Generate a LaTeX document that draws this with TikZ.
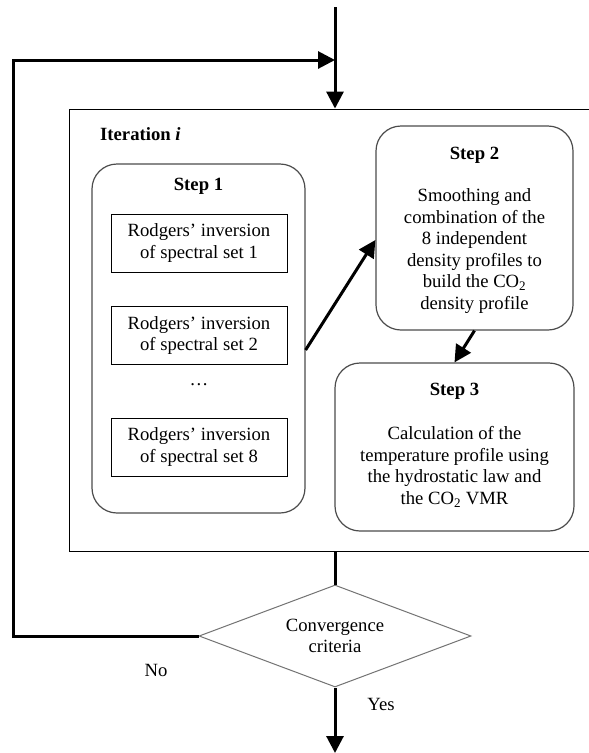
\documentclass[tikz,border=0pt]{standalone}
\usepackage{fontspec}
\setmainfont{Liberation Serif}
\usetikzlibrary{arrows.meta,shapes.geometric}
\begin{document}
\begin{tikzpicture}[x=1pt,y=-1pt,
  txt/.style={font=\fontsize{18.67}{21.5}\selectfont, align=center, inner sep=0pt},
  bold/.style={font=\fontsize{18.67}{21.5}\selectfont\bfseries, inner sep=0pt},
  thickarrow/.style={line width=3pt, -{Triangle[length=17pt,width=17pt]}},
  thickline/.style={line width=3pt},
  stepbox/.style={draw=black!70, line width=1.2pt, rounded corners=25pt, inner sep=0pt},
  invbox/.style={txt, draw, line width=0.9pt, minimum width=176pt, minimum height=58pt},
  framebox/.style={draw, line width=0.9pt, inner sep=0pt},
  decision/.style={txt, diamond, draw=black!55, line width=1pt, shape aspect=2.67,
    minimum width=272pt, minimum height=102pt}
]
\useasboundingbox (0,0) rectangle (589,753);
\clip (0,0) rectangle (589,753);
\fill[white] (0,0) rectangle (589,753);

% outer iteration frame
\node[framebox, minimum width=532pt, minimum height=442pt] (outer) at (335,330) {};
\node[bold, anchor=west] (iter) at (100,134) {Iteration \textit{i}};

% Step 1
\node[stepbox, minimum width=213pt, minimum height=349pt] (s1) at (198.5,338.5) {};
\node[bold] (s1t) at (198.5,186) {Step 1};
\node[invbox] (inv1) at (199,243) {Rodgers’ inversion\\of spectral set 1};
\node[invbox] (inv2) at (199,335.5) {Rodgers’ inversion\\of spectral set 2};
\node[txt] (dots) at (199,385) {…};
\node[invbox] (inv8) at (199,447) {Rodgers’ inversion\\of spectral set 8};

% Step 2
\node[stepbox, minimum width=197pt, minimum height=204pt] (s2) at (474.5,228) {};
\node[bold] (s2t) at (474.5,155) {Step 2};
\node[txt] (s2b) at (474.5,251) {Smoothing and\\combination of the\\8 independent\\density profiles to\\build the CO\textsubscript{2}\\density profile};

% Step 3
\node[stepbox, minimum width=239pt, minimum height=168pt] (s3) at (454.5,447) {};
\node[bold] (s3t) at (454.5,391) {Step 3};
\node[txt] (s3b) at (454.5,467) {Calculation of the\\temperature profile using\\the hydrostatic law and\\the CO\textsubscript{2} VMR};

% decision
\node[decision] (conv) at (335,636) {Convergence\\criteria};
\node[txt] (no) at (156,670) {No};
\node[txt] (yes) at (381,704) {Yes};

% coordinates
\coordinate (top) at (335,7);
\coordinate (fbcorner) at (13,60);
\coordinate (junction) at (335,60);
\coordinate (bottom) at (335,753);

% connectors
\draw[thickarrow] (top) -- (outer.north);
\draw[thickarrow] (conv.west) -| (fbcorner) -- (junction);
\draw[thickline] (outer.south) -- (conv.north);
\draw[thickarrow] (conv.south) -- (bottom);
\draw[thickarrow] ([yshift=-11.5pt]s1.east) -- ([yshift=-12pt]s2.west);
\draw[thickarrow] (s2.south) -- (s3.north);
\end{tikzpicture}
\end{document}
